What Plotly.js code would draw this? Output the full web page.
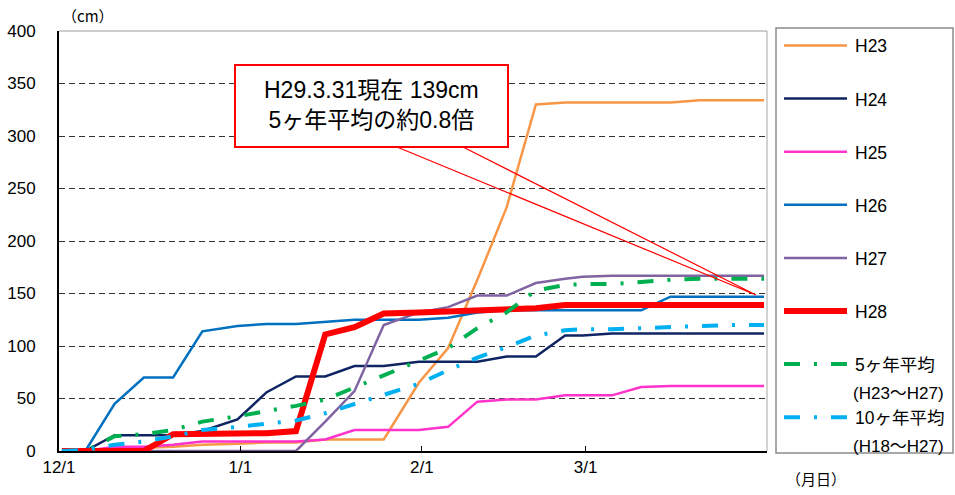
<!DOCTYPE html>
<html>
<head>
<meta charset="utf-8">
<script src="https://cdn.plot.ly/plotly-3.0.1.min.js"></script>
<style>
  html, body { margin: 0; padding: 0; background: #fff; }
  #chart { width: 955px; height: 495px; }
</style>
</head>
<body>
<div id="chart"></div>
<script>
// Cumulative snowfall (cm), pentad readings from 12/1 to 3/31
const dates = [
  '2016-12-01', '2016-12-05', '2016-12-10', '2016-12-15', '2016-12-20', '2016-12-25', '2016-12-31',
  '2017-01-05', '2017-01-10', '2017-01-15', '2017-01-20', '2017-01-25', '2017-01-31',
  '2017-02-05', '2017-02-10', '2017-02-15', '2017-02-20', '2017-02-25', '2017-02-28',
  '2017-03-05', '2017-03-10', '2017-03-15', '2017-03-20', '2017-03-25', '2017-03-31'
];

const h23 = [0, 0, 1, 3, 4, 6, 7, 8, 8, 11, 11, 11, 65, 98, 163, 232, 330, 332, 332, 332, 332, 332, 334, 334, 334];
const h24 = [0, 0, 15, 15, 15, 19, 30, 56, 71, 71, 81, 81, 85, 85, 85, 90, 90, 110, 110, 112, 112, 112, 112, 112, 112];
const h25 = [0, 0, 4, 4, 6, 9, 9, 9, 9, 11, 20, 20, 20, 23, 47, 49, 49, 53, 53, 53, 61, 62, 62, 62, 62];
const h26 = [0, 0, 45, 70, 70, 114, 119, 121, 121, 123, 125, 125, 125, 127, 132, 134, 134, 134, 134, 134, 134, 147, 147, 147, 147];
const h27 = [0, 0, 0, 0, 0, 0, 0, 0, 0, 28, 57, 120, 132, 137, 148, 148, 160, 164, 166, 167, 167, 167, 167, 167, 167];
const h28 = [0, 0, 0, 0, 16, 16, 16, 17, 19, 111, 118, 131, 132, 133, 134, 135, 136, 139, 139, 139, 139, 139, 139, 139, 139];
const avg5 = [0, 0, 14, 16, 20, 28, 33, 38, 43, 49, 60, 72, 86, 98, 117, 132, 153, 158, 159, 159, 161, 163, 164, 164, 164];
const avg10 = [0, 1, 6, 9, 14, 20, 23, 26, 29, 36, 45, 53, 64, 77, 89, 99, 110, 115, 116, 116, 117, 118, 119, 120, 120];

const seriesNames = ['H23', 'H24', 'H25', 'H26', 'H27', 'H28', '5ヶ年平均', '10ヶ年平均'];
const seriesNotes = ['', '', '', '', '', '', '(H23～H27)', '(H18～H27)'];

const tickDates = ['2016-12-01', '2017-01-01', '2017-02-01', '2017-03-01'];
const tickLabels = ['12/1', '1/1', '2/1', '3/1'];
const yTicks = [0, 50, 100, 150, 200, 250, 300, 350, 400];

// ---- styling ----
const FONT = '"Liberation Sans", Arial, "Noto Sans CJK JP", sans-serif';
const DASHDOT = '16px,14px,3px,14px';
const styles = [
  { color: '#F79646', width: 2.5, dash: 'solid' },
  { color: '#0F2463', width: 2.5, dash: 'solid' },
  { color: '#FF33CC', width: 2.5, dash: 'solid' },
  { color: '#0070C0', width: 2.5, dash: 'solid' },
  { color: '#8064A2', width: 2.5, dash: 'solid' },
  { color: '#FF0000', width: 6, dash: 'solid' },
  { color: '#00B050', width: 4, dash: DASHDOT },
  { color: '#00B0F0', width: 4, dash: DASHDOT }
];

// readings are plotted at the middle of each day
const xs = dates.map(d => d + ' 12:00');
const allSeries = [h23, h24, h25, h26, h27, h28, avg5, avg10];

const traces = allSeries.map((ys, i) => ({
  type: 'scatter',
  mode: 'lines',
  name: seriesNames[i],
  x: xs,
  y: ys,
  line: { color: styles[i].color, width: styles[i].width, dash: styles[i].dash },
  hoverinfo: 'skip'
}));

// plot area in pixels: left 59, right 767, top 31, bottom 451
const M = { l: 59, r: 188, t: 31, b: 44 };
const W = 955, H = 495;
const PW = W - M.l - M.r, PH = H - M.t - M.b;
const px = x => (x - M.l) / PW;
const py = y => (H - M.b - y) / PH;

const shapes = [];
const annotations = [];

// light frame along the top and right edges of the plot
shapes.push({ type: 'line', xref: 'paper', yref: 'paper', x0: 0, x1: 1, y0: 1, y1: 1,
  line: { color: '#9a9a9a', width: 1 }, layer: 'above' });
shapes.push({ type: 'line', xref: 'paper', yref: 'paper', x0: 1, x1: 1, y0: 0, y1: 1,
  line: { color: '#a6a6a6', width: 1 }, layer: 'above' });

// callout pointing at the latest value
shapes.push({ type: 'path', xref: 'paper', yref: 'paper',
  path: `M ${px(397)} ${py(147)} L ${px(756)} ${py(295)} L ${px(463)} ${py(147)}`,
  line: { color: '#FF0000', width: 1.2 }, fillcolor: 'rgba(0,0,0,0)', layer: 'above' });
shapes.push({ type: 'rect', xref: 'paper', yref: 'paper',
  x0: px(235), x1: px(508), y0: py(147), y1: py(65),
  line: { color: '#FF0000', width: 2 }, fillcolor: '#ffffff', layer: 'above' });
annotations.push({ xref: 'paper', yref: 'paper', x: px(371.5), y: py(105),
  xanchor: 'center', yanchor: 'middle', showarrow: false, align: 'center',
  text: `H29.3.31現在 ${h28[h28.length - 1]}cm<br>5ヶ年平均の約0.8倍`,
  font: { family: FONT, size: 23, color: '#000' } });

// unit labels
annotations.push({ xref: 'paper', yref: 'paper', x: px(88), y: py(16), xanchor: 'center', yanchor: 'middle',
  showarrow: false, text: '（cm）', font: { family: '"Noto Sans CJK JP", sans-serif', size: 15, color: '#000' } });
annotations.push({ xref: 'paper', yref: 'paper', x: px(816), y: py(478), xanchor: 'center', yanchor: 'middle',
  showarrow: false, text: '（月日）', font: { family: '"Noto Sans CJK JP", sans-serif', size: 15, color: '#000' } });

// legend panel
shapes.push({ type: 'rect', xref: 'paper', yref: 'paper',
  x0: px(776), x1: px(953), y0: py(453), y1: py(28),
  line: { color: '#8c8c8c', width: 1.5 }, fillcolor: 'rgba(0,0,0,0)', layer: 'above' });
seriesNames.forEach((name, i) => {
  const yy = 45.5 + 53.1 * i;
  shapes.push({ type: 'line', xref: 'paper', yref: 'paper',
    x0: px(784), x1: px(847), y0: py(yy), y1: py(yy),
    line: { color: styles[i].color, width: styles[i].width, dash: styles[i].dash }, layer: 'above' });
  annotations.push({ xref: 'paper', yref: 'paper', x: px(853), y: py(yy + 1), xanchor: 'left', yanchor: 'middle',
    showarrow: false, text: name, font: { family: FONT, size: 17.5, color: '#000' } });
  if (seriesNotes[i]) {
    annotations.push({ xref: 'paper', yref: 'paper', x: px(851), y: py(yy + 29), xanchor: 'left', yanchor: 'middle',
      showarrow: false, text: seriesNotes[i], font: { family: FONT, size: 17, color: '#000' } });
  }
});

const layout = {
  width: W, height: H,
  margin: M,
  paper_bgcolor: '#ffffff',
  plot_bgcolor: '#ffffff',
  font: { family: FONT, size: 17, color: '#000' },
  showlegend: false,
  xaxis: {
    type: 'date',
    range: ['2016-12-01', '2017-04-01'],
    tickmode: 'array', tickvals: tickDates, ticktext: tickLabels,
    ticks: 'inside', ticklen: 5, tickwidth: 1, tickcolor: '#000',
    showgrid: false, zeroline: false,
    showline: true, linecolor: '#000', linewidth: 2,
    tickfont: { family: FONT, size: 17, color: '#000' },
    fixedrange: true
  },
  yaxis: {
    range: [0, 400],
    tickmode: 'array', tickvals: yTicks,
    ticks: '',
    showgrid: true, gridcolor: '#333333', gridwidth: 1, griddash: '6px,4px',
    zeroline: false,
    showline: true, linecolor: '#000', linewidth: 2,
    ticklabelstandoff: 18,
    tickfont: { family: FONT, size: 17, color: '#000' },
    fixedrange: true
  },
  shapes: shapes,
  annotations: annotations
};

Plotly.newPlot('chart', traces, layout, { staticPlot: true, displayModeBar: false });
</script>
</body>
</html>
